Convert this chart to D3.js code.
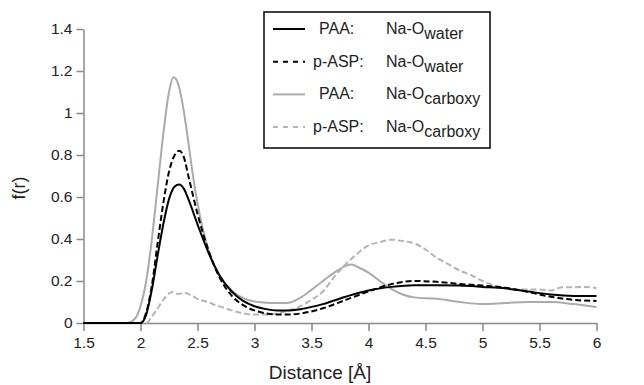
<!DOCTYPE html>
<html>
<head>
<meta charset="utf-8">
<script src="https://cdn.jsdelivr.net/npm/d3@7"></script>
<style>
  body { margin: 0; background: #fff; }
  text { font-family: "Liberation Sans", Arial, sans-serif; fill: #222; }
</style>
</head>
<body>
<div id="chart"></div>
<script>
const width = 644
const height = 385

const xTicks = [1.5, 2, 2.5, 3, 3.5, 4, 4.5, 5, 5.5, 6]
const yTicks = [0, 0.2, 0.4, 0.6, 0.8, 1, 1.2, 1.4]

// PAA: Na-O water (black solid)
const paaWater = [[1.5,0],[2.0,0],[2.05,0.04],[2.1,0.16],[2.15,0.32],[2.2,0.47],[2.25,0.59],[2.3,0.65],[2.34,0.66],[2.38,0.64],[2.42,0.59],[2.5,0.47],[2.6,0.33],[2.7,0.22],[2.8,0.15],[2.9,0.105],[3.0,0.08],[3.1,0.066],[3.2,0.06],[3.3,0.06],[3.4,0.066],[3.6,0.09],[3.8,0.125],[4.0,0.155],[4.2,0.172],[4.4,0.18],[4.6,0.18],[4.8,0.178],[5.0,0.172],[5.2,0.165],[5.4,0.15],[5.6,0.136],[5.8,0.129],[6.0,0.128]]
// p-ASP: Na-O water (black dashed)
const paspWater = [[1.5,0],[2.0,0],[2.05,0.05],[2.1,0.18],[2.15,0.38],[2.2,0.57],[2.25,0.72],[2.3,0.8],[2.34,0.82],[2.38,0.79],[2.42,0.7],[2.5,0.52],[2.6,0.34],[2.7,0.21],[2.8,0.13],[2.9,0.085],[3.0,0.06],[3.1,0.046],[3.2,0.04],[3.3,0.04],[3.4,0.045],[3.6,0.07],[3.8,0.11],[4.0,0.15],[4.2,0.185],[4.4,0.2],[4.6,0.196],[4.8,0.186],[5.0,0.178],[5.2,0.168],[5.4,0.148],[5.6,0.125],[5.8,0.11],[6.0,0.105]]
// PAA: Na-O carboxy (grey solid)
const paaCarboxy = [[1.5,0],[1.88,0],[1.95,0.02],[2.0,0.08],[2.05,0.2],[2.1,0.4],[2.15,0.65],[2.2,0.9],[2.25,1.1],[2.29,1.17],[2.33,1.14],[2.37,1.04],[2.41,0.9],[2.45,0.74],[2.5,0.57],[2.55,0.44],[2.6,0.34],[2.7,0.22],[2.8,0.155],[2.9,0.118],[3.0,0.102],[3.1,0.097],[3.2,0.095],[3.28,0.095],[3.4,0.12],[3.5,0.158],[3.6,0.2],[3.7,0.24],[3.8,0.272],[3.85,0.278],[3.9,0.268],[4.0,0.24],[4.1,0.2],[4.2,0.162],[4.3,0.136],[4.4,0.122],[4.6,0.115],[4.8,0.1],[5.0,0.09],[5.2,0.095],[5.4,0.1],[5.6,0.1],[5.8,0.09],[6.0,0.076]]
// p-ASP: Na-O carboxy (grey dashed)
const paspCarboxy = [[1.5,0],[2.05,0],[2.1,0.03],[2.15,0.07],[2.2,0.11],[2.25,0.14],[2.28,0.148],[2.33,0.138],[2.38,0.144],[2.45,0.13],[2.5,0.115],[2.55,0.106],[2.6,0.1],[2.65,0.086],[2.7,0.078],[2.8,0.06],[2.9,0.046],[3.0,0.04],[3.1,0.04],[3.2,0.046],[3.3,0.06],[3.4,0.08],[3.5,0.11],[3.6,0.15],[3.7,0.22],[3.8,0.28],[3.9,0.33],[4.0,0.37],[4.1,0.385],[4.2,0.397],[4.3,0.39],[4.4,0.38],[4.5,0.35],[4.6,0.31],[4.7,0.28],[4.8,0.25],[4.9,0.228],[5.0,0.2],[5.1,0.18],[5.2,0.165],[5.3,0.16],[5.5,0.16],[5.6,0.155],[5.7,0.17],[5.8,0.17],[5.9,0.172],[6.0,0.166]]

const series = [
  {name: "PAA:", sub: "water", data: paaWater, color: "#000", dash: null, tx: 319},
  {name: "p-ASP:", sub: "water", data: paspWater, color: "#000", dash: "6,3", tx: 313},
  {name: "PAA:", sub: "carboxy", data: paaCarboxy, color: "#aaa", dash: null, tx: 319},
  {name: "p-ASP:", sub: "carboxy", data: paspCarboxy, color: "#b4b4b4", dash: "6,3", tx: 313}
]

const x = d3.scaleLinear().domain([1.5, 6]).range([83.5, 596.5])
const y = d3.scaleLinear().domain([0, 1.4]).range([323, 29])

const svg = d3.select("#chart")
              .append("svg")
              .attr("width", width)
              .attr("height", height)

//Axes
const xAxis = svg.append("g")
   .attr("transform", "translate(0," + y(0) + ")")
   .call(d3.axisBottom(x).tickValues(xTicks).tickFormat(d3.format("")).tickSize(8).tickSizeOuter(0))
const yAxis = svg.append("g")
   .attr("transform", "translate(" + x(1.5) + ",0)")
   .call(d3.axisLeft(y).tickValues(yTicks).tickFormat(d3.format("")).tickSize(7).tickSizeOuter(0))

svg.selectAll(".domain, .tick line").attr("stroke", "#888").attr("stroke-width", 1.5)
svg.selectAll(".tick text").style("font-size", "15.5px").style("font-family", "Liberation Sans, Arial, sans-serif").attr("fill", "#222")
xAxis.selectAll(".tick text").attr("dy", "0.9em")
yAxis.selectAll(".tick text").attr("x", -11)

svg.append("text")
   .attr("x", 320)
   .attr("y", 379)
   .attr("text-anchor", "middle")
   .style("font-size", "19px")
   .text("Distance [Å]")

svg.append("text")
   .attr("transform", "translate(25,188) rotate(-90)")
   .attr("text-anchor", "middle")
   .style("font-size", "18px")
   .text("f(r)")

// Curves
const line = d3.line()
               .x(d => x(d[0]))
               .y(d => y(d[1]))
               .curve(d3.curveMonotoneX)

const drawOrder = [2, 3, 1, 0]
drawOrder.forEach(i => {
  const s = series[i]
  svg.append("path")
     .datum(s.data)
     .attr("d", line)
     .attr("fill", "none")
     .attr("stroke", s.color)
     .attr("stroke-width", 2)
     .attr("stroke-dasharray", s.dash)
})

//Legend
const legend = svg.append("g").attr("id", "legend")
legend.append("rect")
      .attr("x", 264).attr("y", 12)
      .attr("width", 226).attr("height", 136)
      .attr("fill", "#fff")
      .attr("stroke", "#000")
      .attr("stroke-width", 1.5)

series.forEach((s, i) => {
  const ry = 29 + i * 32.7
  legend.append("line")
        .attr("x1", 273).attr("x2", 305)
        .attr("y1", ry).attr("y2", ry)
        .attr("stroke", s.color)
        .attr("stroke-width", 2)
        .attr("stroke-dasharray", s.dash ? "5,5" : null)
  legend.append("text")
        .attr("x", s.tx).attr("y", ry + 5)
        .style("font-size", "16px")
        .text(s.name)
  const t = legend.append("text")
        .attr("x", 386).attr("y", ry + 5)
        .style("font-size", "16px")
  t.append("tspan").text("Na-O")
  t.append("tspan").attr("dy", 5).style("font-size", "16px").text(s.sub)
})
</script>
</body>
</html>
